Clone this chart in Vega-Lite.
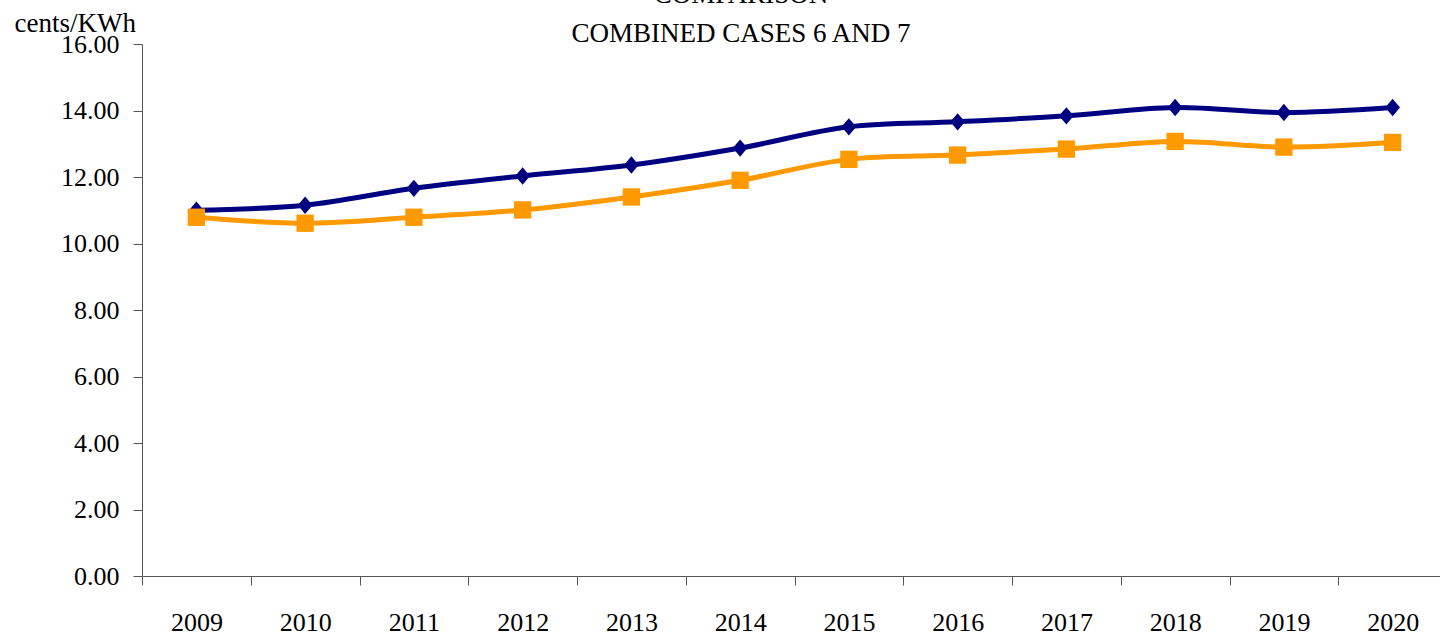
{
  "$schema": "https://vega.github.io/schema/vega-lite/v6.json",
  "width": 1298,
  "height": 532,
  "autosize": {"type": "none"},
  "padding": {"left": 142, "top": 44, "right": 0, "bottom": 60},
  "background": "white",
  "config": {"view": {"stroke": null}, "font": "Liberation Serif"},
  "title": {
    "text": ["COMPARISON", "COMBINED CASES 6 AND 7"],
    "fontSize": 27,
    "fontWeight": "normal",
    "font": "Liberation Serif",
    "color": "black",
    "anchor": "middle",
    "dx": -50,
    "dy": 66,
    "baseline": "bottom",
    "lineHeight": 39,
    "offset": 0
  },
  "data": {
    "values": [
      {"year": "2009", "series": "A", "value": 11.00},
      {"year": "2010", "series": "A", "value": 11.15},
      {"year": "2011", "series": "A", "value": 11.66},
      {"year": "2012", "series": "A", "value": 12.03},
      {"year": "2013", "series": "A", "value": 12.36},
      {"year": "2014", "series": "A", "value": 12.87},
      {"year": "2015", "series": "A", "value": 13.51},
      {"year": "2016", "series": "A", "value": 13.66},
      {"year": "2017", "series": "A", "value": 13.84},
      {"year": "2018", "series": "A", "value": 14.09},
      {"year": "2019", "series": "A", "value": 13.94},
      {"year": "2020", "series": "A", "value": 14.09},
      {"year": "2009", "series": "B", "value": 10.79},
      {"year": "2010", "series": "B", "value": 10.61},
      {"year": "2011", "series": "B", "value": 10.79},
      {"year": "2012", "series": "B", "value": 11.01},
      {"year": "2013", "series": "B", "value": 11.40},
      {"year": "2014", "series": "B", "value": 11.90},
      {"year": "2015", "series": "B", "value": 12.53},
      {"year": "2016", "series": "B", "value": 12.66},
      {"year": "2017", "series": "B", "value": 12.84},
      {"year": "2018", "series": "B", "value": 13.07},
      {"year": "2019", "series": "B", "value": 12.90},
      {"year": "2020", "series": "B", "value": 13.04}
    ]
  },
  "encoding": {
    "x": {
      "field": "year",
      "type": "ordinal",
      "scale": {"range": [0, 1305], "paddingInner": 0, "paddingOuter": 0},
      "axis": {
        "title": null,
        "labelAngle": 0,
        "tickBand": "extent",
        "tickSize": 9,
        "labelPadding": 24,
        "labelFontSize": 26,
        "labelFont": "Liberation Serif",
        "labelColor": "black",
        "domainColor": "#555",
        "tickColor": "#555",
        "grid": false
      }
    },
    "y": {
      "field": "value",
      "type": "quantitative",
      "scale": {"domain": [0, 16]},
      "axis": {
        "values": [0, 2, 4, 6, 8, 10, 12, 14, 16],
        "format": ".2f",
        "grid": false,
        "title": "cents/KWh",
        "titleAngle": 0,
        "titleAlign": "left",
        "titleBaseline": "alphabetic",
        "titleX": -128,
        "titleY": -13,
        "titleFontSize": 27,
        "titleFontWeight": "normal",
        "titleFont": "Liberation Serif",
        "titleColor": "black",
        "labelFontSize": 26,
        "labelFont": "Liberation Serif",
        "labelColor": "black",
        "labelPadding": 14,
        "tickSize": 9,
        "tickColor": "#555",
        "domainColor": "#555"
      }
    },
    "color": {
      "field": "series",
      "type": "nominal",
      "scale": {"domain": ["A", "B"], "range": ["#000080", "#FF9900"]},
      "legend": null
    }
  },
  "layer": [
    {
      "mark": {"type": "line", "interpolate": "catmull-rom", "strokeWidth": 5}
    },
    {
      "mark": {"type": "point", "filled": true, "opacity": 1, "size": 300},
      "encoding": {
        "shape": {
          "field": "series",
          "type": "nominal",
          "scale": {"domain": ["A", "B"], "range": ["M-0.85,0L0,-1L0.85,0L0,1Z", "square"]},
          "legend": null
        }
      }
    }
  ]
}
